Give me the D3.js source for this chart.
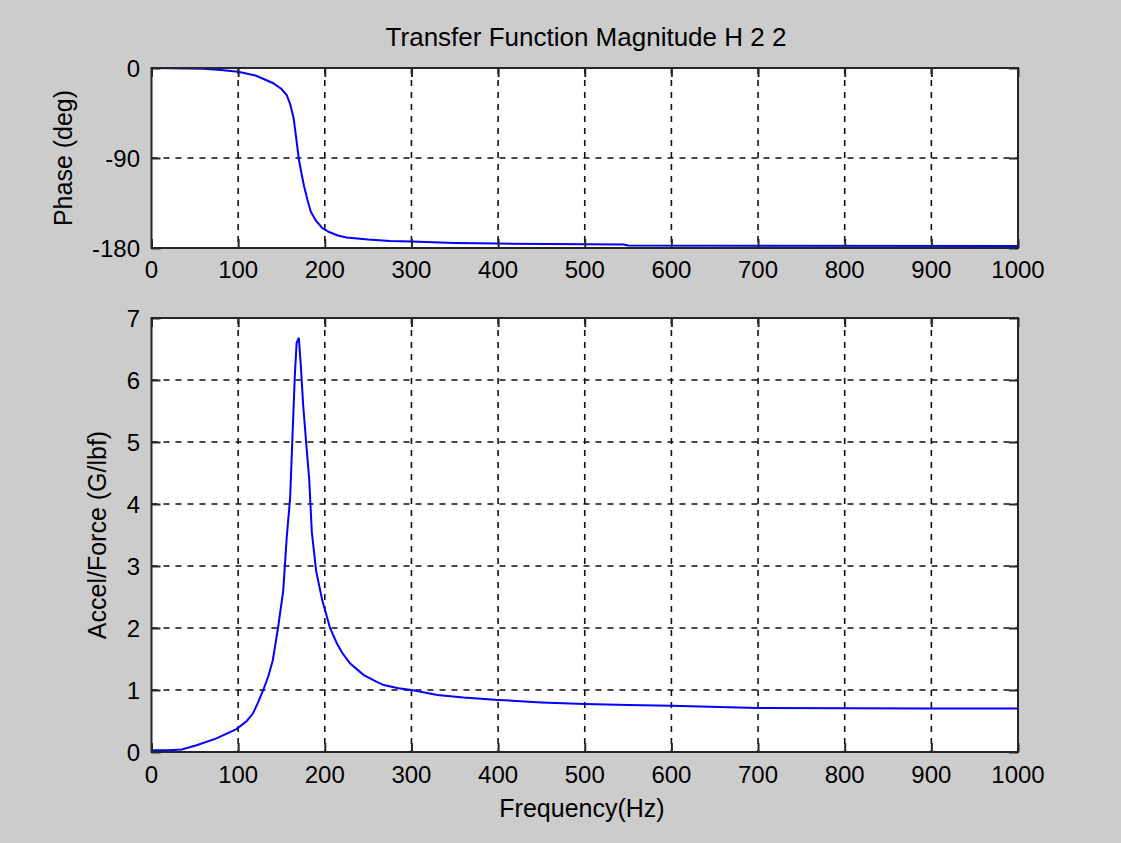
<!DOCTYPE html>
<html>
<head>
<meta charset="utf-8">
<script src="https://cdn.jsdelivr.net/npm/d3@7"></script>
<style>
  html, body { margin: 0; padding: 0; background: #cccccc; }
  svg { display: block; font-family: "Liberation Sans", Arial, sans-serif; }
</style>
</head>
<body>
<svg id="chart" width="1121" height="843"></svg>
<script>
const title = 'Transfer Function Magnitude H 2 2';
const xLabel = 'Frequency(Hz)';
const phaseLabel = 'Phase (deg)';
const magLabel = 'Accel/Force (G/lbf)';

const freqTicks = [0, 100, 200, 300, 400, 500, 600, 700, 800, 900, 1000];
const phaseTicks = [-180, -90, 0];
const magTicks = [0, 1, 2, 3, 4, 5, 6, 7];

// phase
const phaseFreq = [0, 20, 40, 60, 80, 100, 120, 140, 150, 156, 160, 164, 167, 170, 173, 176, 180, 184, 190, 197, 205, 215, 225, 250, 275, 300, 350, 400, 500, 545, 550, 700, 1000];
const phaseDeg = [0, -0.2, -0.4, -0.8, -2, -3.7, -7.5, -15, -21, -27, -36, -50, -70, -91, -105, -118, -132, -144, -153, -160, -164, -167.5, -169.5, -171.5, -173, -173.5, -175, -175.6, -176.2, -176.5, -177.4, -177.7, -178];

// magnitude
const magFreq = [0, 20, 35, 52, 75, 98, 110, 117, 123, 129, 135, 140, 146, 152, 156, 160, 163, 165.5, 167.5, 170, 172.5, 175, 179, 182, 185, 190, 197, 206, 214, 220, 229, 245, 260, 268, 285, 300, 330, 360, 400, 450, 500, 550, 600, 700, 800, 900, 1000];
const magValue = [0.03, 0.03, 0.04, 0.11, 0.22, 0.37, 0.5, 0.62, 0.8, 1.0, 1.23, 1.48, 2.0, 2.6, 3.45, 4.1, 5.2, 6.1, 6.6, 6.68, 6.2, 5.6, 4.9, 4.4, 3.55, 2.92, 2.45, 2.0, 1.75, 1.6, 1.43, 1.24, 1.13, 1.08, 1.03, 1.0, 0.92, 0.88, 0.84, 0.8, 0.775, 0.76, 0.745, 0.71, 0.705, 0.7, 0.7];

const svg = d3.select('#chart');
svg.append('rect').attr('width', 1121).attr('height', 843).attr('fill', '#cccccc');

const x = d3.scaleLinear().domain([0, 1000]).range([151.5, 1018]);

function drawAxes (y, yTicks, freqs, values, yLabelText, yLabelX, xTickY) {
  const [yBottom, yTop] = y.range();
  const g = svg.append('g');

  g.append('rect')
    .attr('x', x(0)).attr('y', yTop)
    .attr('width', x(1000) - x(0)).attr('height', yBottom - yTop)
    .attr('fill', '#fff');

  // dashed grid
  g.append('g').selectAll('line')
    .data(freqTicks.slice(1, -1))
    .join('line')
    .attr('x1', d => x(d)).attr('x2', d => x(d))
    .attr('y1', yTop).attr('y2', yBottom)
    .attr('stroke', '#111').attr('stroke-width', 1.6)
    .attr('stroke-dasharray', '6,6');
  g.append('g').selectAll('line')
    .data(yTicks.slice(1, -1))
    .join('line')
    .attr('x1', x(0)).attr('x2', x(1000))
    .attr('y1', d => y(d)).attr('y2', d => y(d))
    .attr('stroke', '#111').attr('stroke-width', 1.6)
    .attr('stroke-dasharray', '6,6');

  const line = d3.line()
    .x(d => x(d[0]))
    .y(d => y(d[1]));
  g.append('path')
    .datum(freqs.map((f, i) => [f, values[i]]))
    .attr('d', line)
    .attr('fill', 'none')
    .attr('stroke', '#0000ff')
    .attr('stroke-width', 2);

  // inward ticks on all four sides
  const tickStyle = sel => {
    sel.select('.domain').remove();
    sel.selectAll('.tick line').attr('stroke', '#262626').attr('stroke-width', 2);
  };
  g.append('g')
    .attr('transform', `translate(0,${yBottom})`)
    .call(d3.axisTop(x).tickValues(freqTicks).tickSize(9).tickFormat(''))
    .call(tickStyle);
  g.append('g')
    .attr('transform', `translate(0,${yTop})`)
    .call(d3.axisBottom(x).tickValues(freqTicks).tickSize(9).tickFormat(''))
    .call(tickStyle);
  g.append('g')
    .attr('transform', `translate(${x(0)},0)`)
    .call(d3.axisRight(y).tickValues(yTicks).tickSize(9).tickFormat(''))
    .call(tickStyle);
  g.append('g')
    .attr('transform', `translate(${x(1000)},0)`)
    .call(d3.axisLeft(y).tickValues(yTicks).tickSize(9).tickFormat(''))
    .call(tickStyle);

  g.append('rect')
    .attr('x', x(0)).attr('y', yTop)
    .attr('width', x(1000) - x(0)).attr('height', yBottom - yTop)
    .attr('fill', 'none')
    .attr('stroke', '#262626')
    .attr('stroke-width', 2);

  g.append('g').selectAll('text')
    .data(freqTicks)
    .join('text')
    .attr('x', d => x(d))
    .attr('y', xTickY)
    .attr('text-anchor', 'middle')
    .style('font-size', '24px')
    .text(d => d);
  g.append('g').selectAll('text')
    .data(yTicks)
    .join('text')
    .attr('x', 140)
    .attr('y', d => y(d))
    .attr('dy', '0.36em')
    .attr('text-anchor', 'end')
    .style('font-size', '24px')
    .text(d => d);

  g.append('text')
    .attr('transform', `translate(${yLabelX},${(yTop + yBottom) / 2}) rotate(-90)`)
    .attr('text-anchor', 'middle')
    .attr('dy', '0.35em')
    .style('font-size', '25px')
    .text(yLabelText);
}

const yPhase = d3.scaleLinear().domain([-180, 0]).range([248, 68]);
const yMag = d3.scaleLinear().domain([0, 7]).range([752, 318]);

drawAxes(yPhase, phaseTicks, phaseFreq, phaseDeg, phaseLabel, 63, 278);
drawAxes(yMag, magTicks, magFreq, magValue, magLabel, 97, 783);

svg.append('text')
  .attr('x', 586).attr('y', 46)
  .attr('text-anchor', 'middle')
  .style('font-size', '26px')
  .text(title);

svg.append('text')
  .attr('x', 582).attr('y', 817)
  .attr('text-anchor', 'middle')
  .style('font-size', '25px')
  .text(xLabel);
</script>
</body>
</html>
